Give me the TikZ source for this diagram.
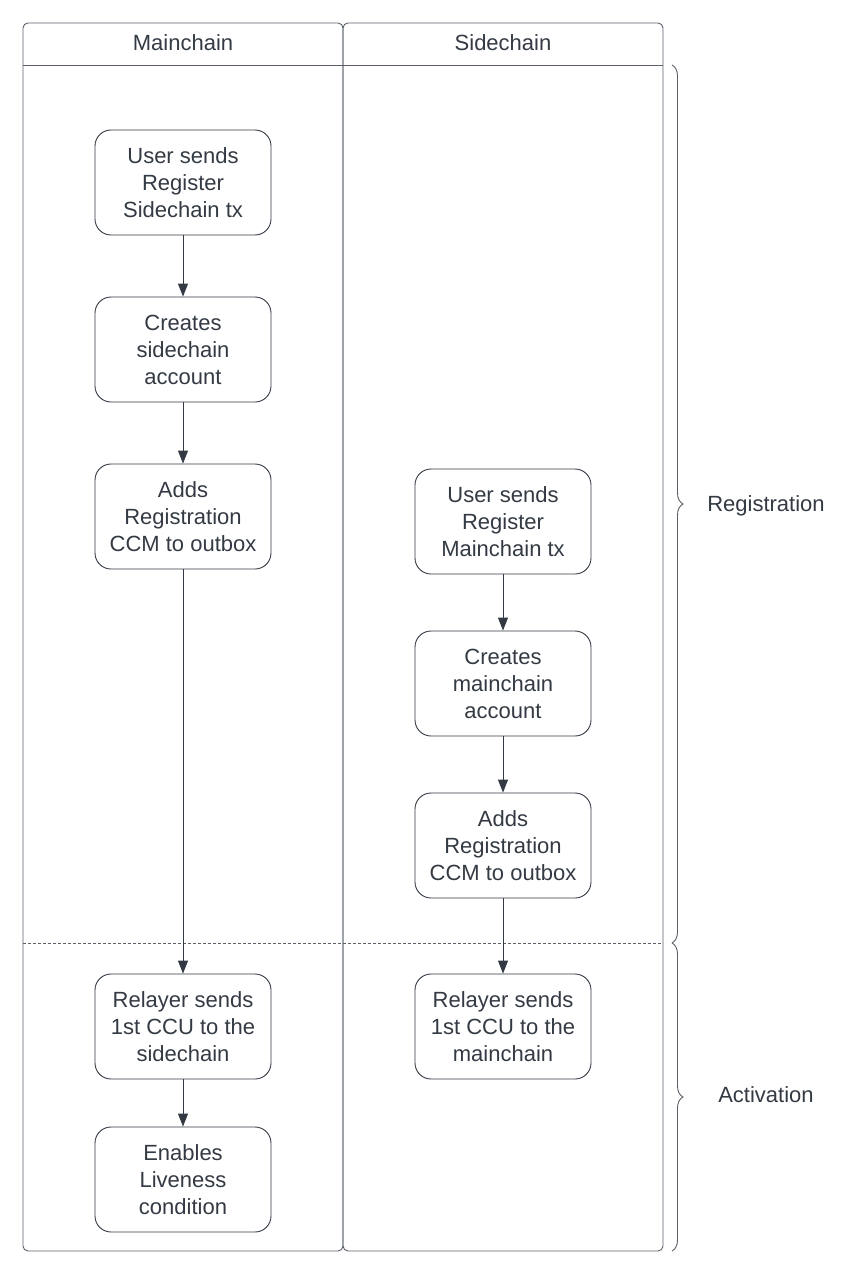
\documentclass[tikz,border=0pt]{standalone}
\usepackage{fontspec}
\setmainfont{Liberation Sans}
\usetikzlibrary{arrows.meta,decorations.pathreplacing}
\definecolor{ink}{HTML}{333A43}
\definecolor{lane}{HTML}{5A6068}
\begin{document}
\begin{tikzpicture}[x=1pt,y=-1pt,
  box/.style={draw=ink, line width=0.9pt, rounded corners=16pt, minimum width=176pt, minimum height=105pt, align=center, text=ink, font=\fontsize{22}{27}\selectfont},
  flow/.style={draw=ink, line width=0.9pt, -{Triangle[length=13pt,width=10pt]}},
  lanebox/.style={draw=lane, line width=0.9pt, rounded corners=5pt},
  lbl/.style={text=ink, font=\fontsize{22}{26}\selectfont},
  brc/.style={draw=lane, line width=0.9pt, decorate, decoration={brace, amplitude=11pt, aspect=0.5}}]
\useasboundingbox (0,0) rectangle (846,1276);
% lanes
\draw[lanebox] (23,23) rectangle (343,1251);
\draw[lanebox] (343,23) rectangle (663,1251);
\draw[draw=lane, line width=0.9pt] (23,65) -- (663,65);
\node[lbl] (hm) at (183,43) {Mainchain};
\node[lbl] (hs) at (503,43) {Sidechain};
\draw[draw=lane, line width=0.9pt, dashed, dash pattern=on 3pt off 2pt] (23,943) -- (663,943);
% braces
\coordinate (r1) at (672,65);
\coordinate (r2) at (672,943);
\coordinate (r3) at (672,1251);
\draw[brc] (r1) -- (r2);
\draw[brc] (r2) -- (r3);
\node[lbl] (reg) at (766,506) {Registration};
\node[lbl] (act) at (766,1095) {Activation};
% main column
\node[box] (m1) at (183,182.5) {User sends\\Register\\Sidechain tx};
\node[box] (m2) at (183,349.5) {Creates\\sidechain\\account};
\node[box] (m3) at (183,516.5) {Adds\\Registration\\CCM to outbox};
\node[box] (m4) at (183,1026.5) {Relayer sends\\1st CCU to the\\sidechain};
\node[box] (m5) at (183,1179.5) {Enables\\Liveness\\condition};
% side column
\node[box] (s1) at (503,521.5) {User sends\\Register\\Mainchain tx};
\node[box] (s2) at (503,683.5) {Creates\\mainchain\\account};
\node[box] (s3) at (503,845.5) {Adds\\Registration\\CCM to outbox};
\node[box] (s4) at (503,1026.5) {Relayer sends\\1st CCU to the\\mainchain};
% arrows
\draw[flow] (m1) -- (m2);
\draw[flow] (m2) -- (m3);
\draw[flow] (m3) -- (m4);
\draw[flow] (m4) -- (m5);
\draw[flow] (s1) -- (s2);
\draw[flow] (s2) -- (s3);
\draw[flow] (s3) -- (s4);
\end{tikzpicture}
\end{document}
